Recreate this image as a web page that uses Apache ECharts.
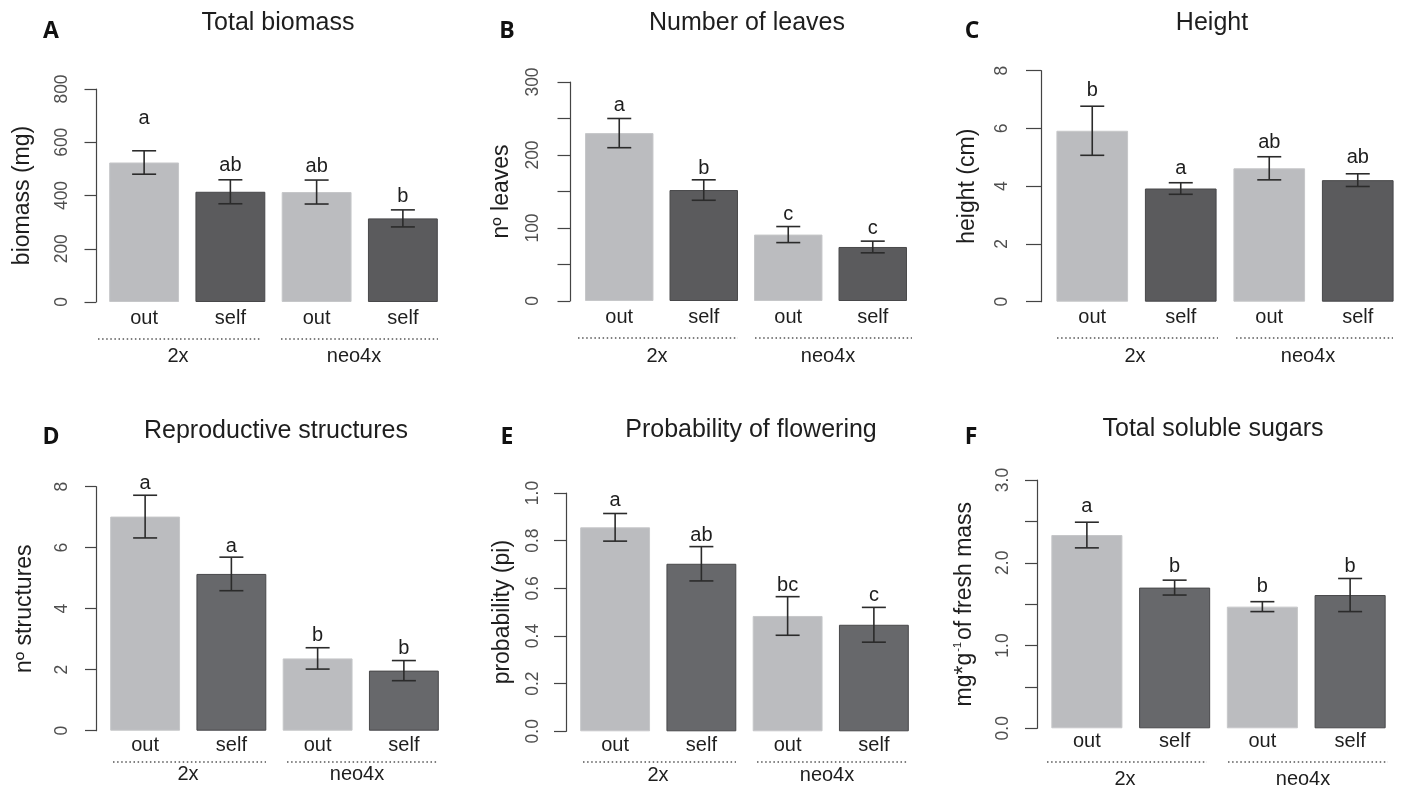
<!DOCTYPE html>
<html>
<head>
<meta charset="utf-8">
<script src="https://cdn.jsdelivr.net/npm/echarts@6/dist/echarts.min.js"></script>
<style>
  html, body { margin: 0; background: #ffffff; }
  #chart { width: 1402px; height: 788px; }
</style>
</head>
<body>
<div id="chart"></div>
<script>
const FONT = '"Liberation Sans", Arial, Helvetica, sans-serif';
const TAG_FONT = '"Open Sans", "Liberation Sans", sans-serif';
const INK = "#1e1e1e";
const MUTED = "#4f4f4f";
const AXIS = "#444444";
const LIGHT = "#bbbcbf";
const DARK_TOP = "#5b5b5d";
const DARK_BOTTOM = "#67686b";

const categories = ["out", "self", "out", "self"];
const groups = ["2x", "neo4x"];

// A - total biomass (mg)
const biomassMean = [524, 414, 413, 314];
const biomassSe = [44, 45, 45, 32];
const biomassLetters = ["a", "ab", "ab", "b"];
const biomassLetterY = [688, 511, 508, 395];

// B - number of leaves
const leavesMean = [230, 152, 91, 74];
const leavesSe = [20, 14, 11, 8];
const leavesLetters = ["a", "b", "c", "c"];
const leavesLetterY = [268, 182, 118, 99];

// C - height (cm)
const heightMean = [5.92, 3.92, 4.62, 4.21];
const heightSe = [0.85, 0.2, 0.4, 0.22];
const heightLetters = ["b", "a", "ab", "ab"];
const heightLetterY = [7.33, 4.62, 5.5, 5.0];

// D - reproductive structures
const structMean = [7.02, 5.14, 2.37, 1.97];
const structSe = [0.7, 0.55, 0.35, 0.33];
const structLetters = ["a", "a", "b", "b"];
const structLetterY = [8.09, 6.03, 3.11, 2.7];

// E - probability of flowering
const flowerMean = [0.856, 0.703, 0.484, 0.447];
const flowerSe = [0.058, 0.072, 0.081, 0.073];
const flowerLetters = ["a", "ab", "bc", "c"];
const flowerLetterY = [0.968, 0.821, 0.611, 0.569];

// F - total soluble sugars
const sugarMean = [2.335, 1.7, 1.47, 1.61];
const sugarSe = [0.155, 0.09, 0.06, 0.2];
const sugarLetters = ["a", "b", "b", "b"];
const sugarLetterY = [2.68, 1.96, 1.71, 1.96];

const panels = [
  { tag: "A", title: "Total biomass", yName: "biomass (mg)", mean: biomassMean, se: biomassSe,
    letters: biomassLetters, letterY: biomassLetterY, max: 800, interval: 200, fmt: (v) => v },
  { tag: "B", title: "Number of leaves", yName: "nº leaves", mean: leavesMean, se: leavesSe,
    letters: leavesLetters, letterY: leavesLetterY, max: 300, interval: 50,
    fmt: (v) => (v % 100 === 0 ? v : "") },
  { tag: "C", title: "Height", yName: "height (cm)", mean: heightMean, se: heightSe,
    letters: heightLetters, letterY: heightLetterY, max: 8, interval: 2, fmt: (v) => v },
  { tag: "D", title: "Reproductive structures", yName: "nº structures", mean: structMean, se: structSe,
    letters: structLetters, letterY: structLetterY, max: 8, interval: 2, fmt: (v) => v },
  { tag: "E", title: "Probability of flowering", yName: "probability (pi)", mean: flowerMean, se: flowerSe,
    letters: flowerLetters, letterY: flowerLetterY, max: 1, interval: 0.2, fmt: (v) => v.toFixed(1) },
  { tag: "F", title: "Total soluble sugars", yName: "{n|mg*g}{s|-1}{n|of fresh mass}", mean: sugarMean, se: sugarSe,
    letters: sugarLetters, letterY: sugarLetterY, max: 3, interval: 0.5,
    fmt: (v) => (v % 1 === 0 ? v.toFixed(1) : "") },
];

// Pixel layout of each panel (plot box, axis placement, annotations).
const layout = [
  { grid: { left: 101, top: 89, width: 345, height: 213 }, axisX: 96, tick: 11.5, labelGap: 25, nameGap: 62, catGap: 6,
    dark: DARK_TOP, title: [278, 23], tag: [51, 31], dots: [[98, 260], [281, 438]], dotY: 339, groupX: [178, 354], groupY: 356 },
  { grid: { left: 577, top: 82, width: 338, height: 219 }, axisX: 570, tick: 12.5, labelGap: 28, nameGap: 57, catGap: 6,
    dark: DARK_TOP, title: [747, 23], tag: [507, 31], dots: [[578, 738], [755, 912]], dotY: 338, groupX: [657, 828], groupY: 356 },
  { grid: { left: 1048, top: 70.7, width: 354, height: 231 }, axisX: 1041, tick: 15, labelGap: 30, nameGap: 62, catGap: 6,
    dark: DARK_TOP, title: [1212, 23], tag: [972, 31], dots: [[1057, 1218], [1236, 1393]], dotY: 338, groupX: [1135, 1308], groupY: 356 },
  { grid: { left: 102, top: 486.7, width: 345, height: 244 }, axisX: 96, tick: 11, labelGap: 25, nameGap: 60, catGap: 4.5,
    dark: DARK_BOTTOM, title: [276, 431], tag: [51, 437], dots: [[113, 266], [287, 438]], dotY: 762, groupX: [188, 357], groupY: 774 },
  { grid: { left: 572, top: 493, width: 345, height: 238.3 }, axisX: 566, tick: 12, labelGap: 24, nameGap: 52, catGap: 4,
    dark: DARK_BOTTOM, title: [751, 430], tag: [507, 437], dots: [[583, 736], [757, 908]], dotY: 762, groupX: [658, 827], groupY: 775 },
  { grid: { left: 1043, top: 480, width: 351, height: 248.3 }, axisX: 1037, tick: 12, labelGap: 25, nameGap: 59, catGap: 3,
    dark: DARK_BOTTOM, title: [1213, 429], tag: [971, 437], dots: [[1047, 1207], [1228, 1388]], dotY: 762, groupX: [1125, 1303], groupY: 779 },
];

const CAP = 12;

// Mean +/- SE whiskers plus the significance letter above each bar.
function errorBars(letters) {
  return function (params, api) {
    const i = api.value(0);
    const m = api.value(1);
    const s = api.value(2);
    const top = api.coord([i, m + s]);
    const bot = api.coord([i, m - s]);
    const lab = api.coord([i, api.value(3)]);
    const style = { stroke: "#2b2b2b", lineWidth: 1.6 };
    return {
      type: "group",
      children: [
        { type: "line", shape: { x1: top[0], y1: top[1], x2: bot[0], y2: bot[1] }, style },
        { type: "line", shape: { x1: top[0] - CAP, y1: top[1], x2: top[0] + CAP, y2: top[1] }, style },
        { type: "line", shape: { x1: bot[0] - CAP, y1: bot[1], x2: bot[0] + CAP, y2: bot[1] }, style },
        {
          type: "text", x: lab[0], y: lab[1],
          style: { text: letters[params.dataIndex], fill: INK, font: `20px ${FONT}`,
            align: "center", verticalAlign: "middle", textAlign: "center", textVerticalAlign: "middle" },
        },
      ],
    };
  };
}

function text(x, y, str, font, fill) {
  return {
    type: "text", x, y, silent: true,
    style: { text: str, font, fill, align: "center", verticalAlign: "middle", textAlign: "center", textVerticalAlign: "middle" },
  };
}

const grid = [];
const xAxis = [];
const yAxis = [];
const series = [];
const graphic = [];

panels.forEach((p, i) => {
  const L = layout[i];
  grid.push({ ...L.grid, containLabel: false });
  xAxis.push({
    type: "category",
    gridIndex: i,
    data: categories,
    axisLine: { show: false },
    axisTick: { show: false },
    axisLabel: { color: INK, fontSize: 20, fontFamily: FONT, margin: L.catGap },
  });
  yAxis.push({
    type: "value",
    gridIndex: i,
    min: 0,
    max: p.max,
    interval: p.interval,
    offset: L.grid.left - L.axisX,
    name: p.yName,
    nameLocation: "middle",
    nameGap: L.nameGap,
    nameTextStyle: {
      color: INK, fontSize: 23, fontFamily: FONT,
      rich: {
        n: { color: INK, fontSize: 23, fontFamily: FONT, lineHeight: 26 },
        s: { color: INK, fontSize: 11, fontFamily: FONT, verticalAlign: "top", padding: [0, 2, 0, 1] },
      },
    },
    axisLine: { show: true, lineStyle: { color: AXIS, width: 1.2 } },
    axisTick: { show: true, length: L.tick, lineStyle: { color: AXIS, width: 1.2 } },
    axisLabel: { rotate: 90, margin: L.labelGap, fontSize: 17.5, fontFamily: FONT, color: MUTED, formatter: p.fmt },
    splitLine: { show: false },
  });
  series.push({
    type: "bar",
    xAxisIndex: i,
    yAxisIndex: i,
    barCategoryGap: "19%",
    data: p.mean.map((v, j) => ({
      value: v,
      itemStyle: {
        color: j % 2 ? L.dark : LIGHT,
        borderColor: j % 2 ? "#48484a" : "#c6c7c9",
        borderWidth: 1,
      },
    })),
  });
  series.push({
    type: "custom",
    xAxisIndex: i,
    yAxisIndex: i,
    z: 5,
    clip: false,
    data: p.mean.map((v, j) => [j, v, p.se[j], p.letterY[j]]),
    renderItem: errorBars(p.letters),
  });

  graphic.push(text(L.title[0], L.title[1], p.title, `25px ${FONT}`, INK));
  graphic.push(text(L.tag[0], L.tag[1], p.tag, `bold 23px ${TAG_FONT}`, "#111111"));
  L.dots.forEach(([x1, x2]) => {
    graphic.push({
      type: "line", silent: true,
      shape: { x1, y1: L.dotY, x2, y2: L.dotY },
      style: { stroke: "#555555", lineWidth: 1.6, lineDash: [1.5, 2.6] },
    });
  });
  groups.forEach((g, k) => graphic.push(text(L.groupX[k], L.groupY, g, `20px ${FONT}`, INK)));
});

const chart = echarts.init(document.getElementById("chart"));
chart.setOption({
  animation: false,
  backgroundColor: "#ffffff",
  textStyle: { fontFamily: FONT },
  grid,
  xAxis,
  yAxis,
  series,
  graphic: { elements: graphic },
});
</script>
</body>
</html>
